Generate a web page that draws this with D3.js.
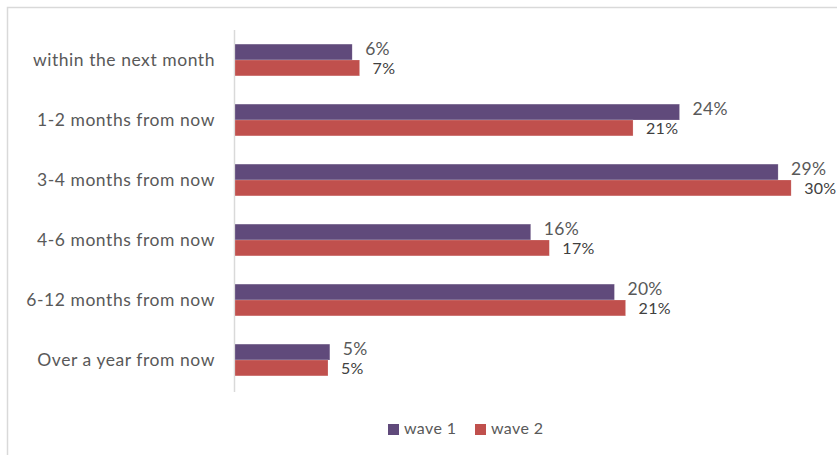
<!DOCTYPE html>
<html><head><meta charset="utf-8">
<script src="https://cdn.jsdelivr.net/npm/d3@7"></script>
<style>body{margin:0;background:#fff}svg{display:block;font-family:Lato,"Open Sans",sans-serif}</style>
</head><body><svg id="c" width="837" height="455"></svg>
<script>
const categories = ["within the next month","1-2 months from now","3-4 months from now","4-6 months from now","6-12 months from now","Over a year from now"];
const wave1 = [6.3, 23.9, 29.2, 15.9, 20.4, 5.1];
const wave2 = [6.7, 21.4, 29.9, 16.9, 21.0, 5.0];
const seriesNames = ["wave 1","wave 2"];
const colors = ["#604a7b","#c0504d"];

const svg = d3.select("#c");
svg.append("rect").attr("x",7.5).attr("y",7.5).attr("width",840).attr("height",460)
  .attr("fill","none").attr("stroke","#d9d9d9").attr("stroke-width",1.5);

const x = d3.scaleLinear().domain([0,1]).range([235,235+1860]);
const y = d3.scaleBand().domain(categories).range([30,390]).paddingInner(0.47).paddingOuter(0.235);
const inner = d3.scaleBand().domain(seriesNames).range([0,y.bandwidth()]);

svg.append("line").attr("x1",234.5).attr("x2",234.5).attr("y1",30).attr("y2",392)
  .attr("stroke","#d9d9d9").attr("stroke-width",1.5);

const data = [wave1, wave2];
data.forEach((vals,si)=>{
  const g = svg.append("g");
  g.selectAll("rect").data(vals).join("rect")
    .attr("x",x(0)).attr("y",(d,i)=>y(categories[i])+inner(seriesNames[si]))
    .attr("width",d=>x(d/100)-x(0)).attr("height",inner.bandwidth())
    .attr("fill",colors[si]).attr("stroke","#fff").attr("stroke-opacity",0.4).attr("stroke-width",0.5);
  g.selectAll("text").data(vals).join("text")
    .attr("x",d=>x(d/100)+13)
    .attr("y",(d,i)=>y(categories[i])+inner(seriesNames[si])+inner.bandwidth()/2+(si===0?-1:2))
    .attr("dominant-baseline","middle")
    .attr("font-size",si===0?17.5:16).attr("font-weight",400)
    .attr("letter-spacing",0.3)
    .attr("fill",si===0?"#595959":"#404040")
    .text(d=>Math.round(d)+"%");
});

svg.append("g").selectAll("text").data(categories).join("text")
  .attr("x",215).attr("y",d=>y(d)+y.bandwidth()/2+2)
  .attr("text-anchor","end").attr("dominant-baseline","middle")
  .attr("font-size",17.5).attr("font-weight",400).attr("letter-spacing",0.55)
  .attr("fill","#595959").text(d=>d);

const leg = svg.append("g");
const lx = [388,475];
seriesNames.forEach((s,i)=>{
  leg.append("rect").attr("x",lx[i]).attr("y",424).attr("width",11).attr("height",11).attr("fill",colors[i]);
  leg.append("text").attr("x",lx[i]+16).attr("y",430).attr("dominant-baseline","middle")
    .attr("font-size",16).attr("letter-spacing",0.4).attr("fill","#595959").text(s);
});
</script></body></html>
